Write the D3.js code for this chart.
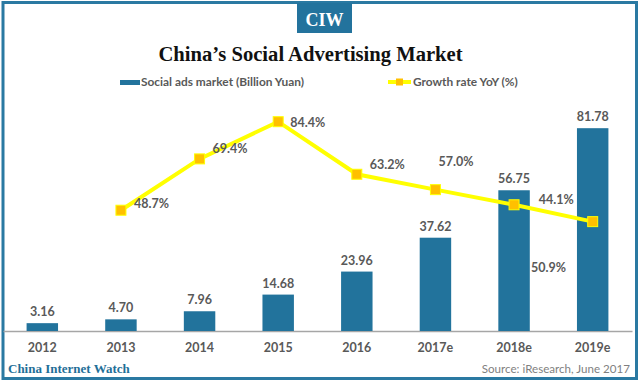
<!DOCTYPE html>
<html lang="en">
<head>
  <meta charset="UTF-8">
  <title>China's Social Advertising Market</title>
  <style>
    body { margin: 0; background: #fff; }
    svg { display: block; }
    .num { font-family: Lato, "Open Sans", sans-serif; fill: #595959; font-weight: 700; }
  </style>
</head>
<body>
  <div id="chart"></div>

  <script src="https://d3js.org/d3.v7.min.js"></script>
  <script>

    // data
    const years = ["2012", "2013", "2014", "2015", "2016", "2017e", "2018e", "2019e"];
    const adsMarket = [3.16, 4.70, 7.96, 14.68, 23.96, 37.62, 56.75, 81.78];
    const growthYears = ["2013", "2014", "2015", "2016", "2017e", "2018e", "2019e"];
    const growthRate = [48.7, 69.4, 84.4, 63.2, 57.0, 50.9, 44.1];
    // where each % label sits relative to its point (as in the original)
    const rateLabelOffsets = [[13, -2], [13, -6], [12, 5], [13, -5], [3, -24], [17, 67], [-54, -18]];

    const width = 640,
          height = 384;

    const barColor = "#22739c",
          frameColor = "#2a79a2";

    const svg = d3.select("#chart")
      .append("svg")
      .attr("width", width)
      .attr("height", height)
      .attr("viewBox", [0, 0, width, height]);

    // frame
    svg.append("rect")
      .attr("x", 3)
      .attr("y", 2.5)
      .attr("width", 633.5)
      .attr("height", 376)
      .attr("fill", "none")
      .attr("stroke", frameColor)
      .attr("stroke-width", 3);

    // CIW badge
    svg.append("rect")
      .attr("x", 297)
      .attr("y", 3)
      .attr("width", 55)
      .attr("height", 30)
      .attr("fill", "#23739d");
    svg.append("text")
      .attr("x", 324.5)
      .attr("y", 26)
      .attr("text-anchor", "middle")
      .attr("fill", "#fff")
      .style("font", "bold 18px 'Liberation Serif', 'DejaVu Serif', serif")
      .text("CIW");

    svg.append("text")
      .attr("x", 310.5)
      .attr("y", 61)
      .attr("text-anchor", "middle")
      .attr("fill", "#111")
      .style("font", "bold 20.6px 'Liberation Serif', 'DejaVu Serif', serif")
      .text("China’s Social Advertising Market");

    let x = d3.scaleBand(years, [3, 632])
      .paddingInner(0.6)
      .paddingOuter(0.3);

    let y = d3.scaleLinear([0, 100], [331, 83]);

    // x axis
    const xAxis = svg.append("g")
      .attr("transform", `translate(0,${y(0)})`)
      .call(d3.axisBottom(x).tickSize(0).tickPadding(12));
    xAxis.select(".domain").attr("stroke", "#a6a6a6").attr("stroke-width", 1.5);
    xAxis.selectAll("text")
      .attr("class", "num")
      .style("font-size", "12.5px");

    // bars
    const barData = years.map((d, i) => ({year: d, value: adsMarket[i]}));

    svg.append("g")
      .selectAll("rect")
      .data(barData)
      .join("rect")
      .attr("x", d => x(d.year))
      .attr("y", d => y(d.value))
      .attr("width", x.bandwidth())
      .attr("height", d => y(0) - y(d.value))
      .attr("fill", barColor);

    svg.append("g")
      .selectAll("text")
      .data(barData)
      .join("text")
      .attr("class", "num")
      .attr("x", d => x(d.year) + x.bandwidth() / 2)
      .attr("y", d => y(d.value) - 7)
      .attr("text-anchor", "middle")
      .style("font-size", "12.5px")
      .text(d => d.value.toFixed(2));

    // growth line
    const rateData = growthYears.map((d, i) => ({year: d, rate: growthRate[i], off: rateLabelOffsets[i]}));
    const cx = d => x(d.year) + x.bandwidth() / 2;

    svg.append("path")
      .datum(rateData)
      .attr("fill", "none")
      .attr("stroke", "#ffff00")
      .attr("stroke-width", 4)
      .attr("d", d3.line().x(cx).y(d => y(d.rate)));

    svg.append("g")
      .selectAll("rect")
      .data(rateData)
      .join("rect")
      .attr("x", d => cx(d) - 5)
      .attr("y", d => y(d.rate) - 5)
      .attr("width", 10)
      .attr("height", 10)
      .attr("fill", "#ffc000")
      .attr("stroke", "#ffff00")
      .attr("stroke-width", 1);

    svg.append("g")
      .selectAll("text")
      .data(rateData)
      .join("text")
      .attr("class", "num")
      .attr("x", d => cx(d) + d.off[0])
      .attr("y", d => y(d.rate) + d.off[1])
      .style("font-size", "12.5px")
      .text(d => d.rate.toFixed(1) + "%");

    // legend
    const legend = svg.append("g")
      .style("font-family", "Lato, 'Open Sans', sans-serif")
      .style("font-size", "11.9px")
      .style("font-weight", 700)
      .attr("fill", "#595959");

    legend.append("rect")
      .attr("x", 120).attr("y", 80)
      .attr("width", 20).attr("height", 5)
      .attr("fill", barColor);
    legend.append("text")
      .attr("x", 141).attr("y", 86)
      .text("Social ads market (Billion Yuan)");

    legend.append("line")
      .attr("x1", 388).attr("x2", 411)
      .attr("y1", 82).attr("y2", 82)
      .attr("stroke", "#ffff00")
      .attr("stroke-width", 4);
    legend.append("rect")
      .attr("x", 396).attr("y", 78.5)
      .attr("width", 7).attr("height", 7)
      .attr("fill", "#ffc000");
    legend.append("text")
      .attr("x", 413).attr("y", 86)
      .text("Growth rate YoY (%)");

    // footer
    svg.append("text")
      .attr("x", 8)
      .attr("y", 373)
      .attr("fill", "#1f6f98")
      .style("font", "bold 13px 'Liberation Serif', 'DejaVu Serif', serif")
      .text("China Internet Watch");

    svg.append("text")
      .attr("x", 630)
      .attr("y", 373)
      .attr("text-anchor", "end")
      .attr("fill", "#7f7f7f")
      .style("font", "11.6px Lato, 'Open Sans', sans-serif")
      .text("Source: iResearch, June 2017");

  </script>
</body>
</html>
